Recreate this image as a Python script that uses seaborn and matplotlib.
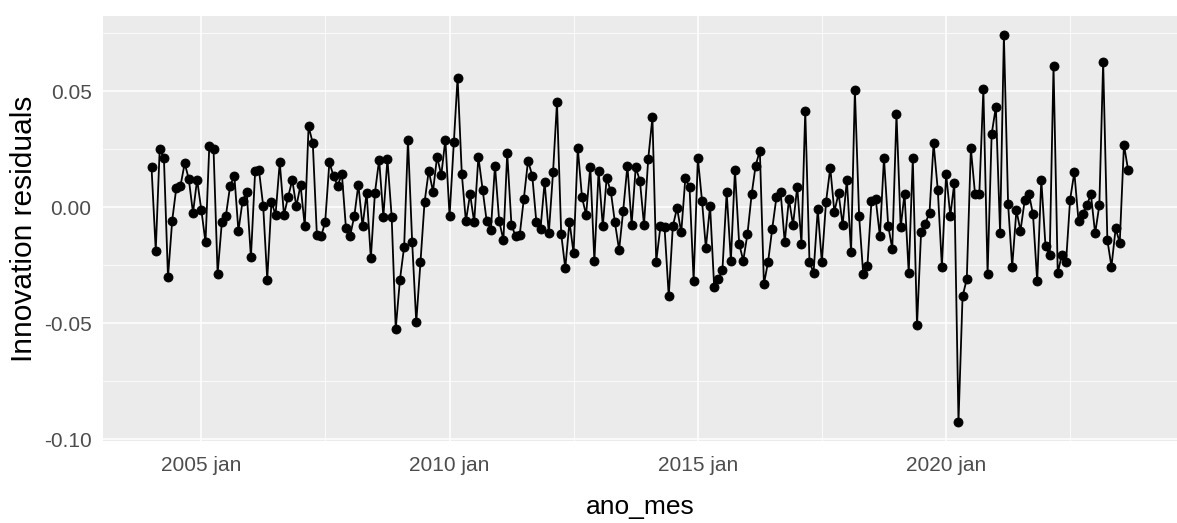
import numpy as np
import pandas as pd
import matplotlib
matplotlib.use("Agg")
import matplotlib.pyplot as plt
import matplotlib.dates as mdates
from matplotlib import font_manager
from matplotlib.ticker import FixedLocator
import seaborn as sns

# Monthly innovation residuals, one list per calendar year
res_2004 = [0.0172, -0.0187, 0.0251, 0.0213, -0.0302, -0.0057, 0.0083, 0.0093, 0.0190, 0.0122, -0.0024, 0.0119]
res_2005 = [-0.0010, -0.0151, 0.0266, 0.0251, -0.0287, -0.0065, -0.0036, 0.0092, 0.0137, -0.0102, 0.0029, 0.0065]
res_2006 = [-0.0216, 0.0155, 0.0161, 0.0007, -0.0312, 0.0024, -0.0033, 0.0194, -0.0033, 0.0043, 0.0118, 0.0004]
res_2007 = [0.0096, -0.0082, 0.0349, 0.0277, -0.0119, -0.0125, -0.0065, 0.0194, 0.0134, 0.0093, 0.0144, -0.0091]
res_2008 = [-0.0122, -0.0036, 0.0098, -0.0082, 0.0062, -0.0220, 0.0062, 0.0205, -0.0040, 0.0208, -0.0040, -0.0525]
res_2009 = [-0.0312, -0.0170, 0.0292, -0.0151, -0.0496, -0.0237, 0.0022, 0.0158, 0.0068, 0.0218, 0.0139, 0.0292]
res_2010 = [-0.0039, 0.0280, 0.0560, 0.0144, -0.0060, 0.0057, -0.0065, 0.0218, 0.0075, -0.0060, -0.0096, 0.0180]
res_2011 = [-0.0060, -0.0141, 0.0234, -0.0075, -0.0125, -0.0119, 0.0036, 0.0201, 0.0137, -0.0062, -0.0093, 0.0108]
res_2012 = [-0.0112, 0.0151, 0.0453, -0.0115, -0.0263, -0.0062, -0.0198, 0.0256, 0.0043, -0.0032, 0.0175, -0.0233]
res_2013 = [0.0158, -0.0082, 0.0126, 0.0069, -0.0065, -0.0184, -0.0014, 0.0180, -0.0075, 0.0172, 0.0115, -0.0076]
res_2014 = [0.0208, 0.0388, -0.0234, -0.0082, -0.0086, -0.0384, -0.0082, -0.0003, -0.0108, 0.0125, 0.0086, -0.0316]
res_2015 = [0.0213, 0.0026, -0.0175, 0.0006, -0.0342, -0.0309, -0.0269, 0.0065, -0.0230, 0.0161, -0.0158, -0.0230]
res_2016 = [-0.0115, 0.0057, 0.0180, 0.0244, -0.0331, -0.0234, -0.0093, 0.0043, 0.0065, -0.0151, 0.0036, -0.0076]
res_2017 = [0.0089, -0.0158, 0.0417, -0.0234, -0.0283, -0.0009, -0.0237, 0.0024, 0.0170, -0.0019, 0.0060, -0.0076]
res_2018 = [0.0118, -0.0194, 0.0506, -0.0036, -0.0287, -0.0254, 0.0026, 0.0036, -0.0125, 0.0213, -0.0079, -0.0180]
res_2019 = [0.0402, -0.0087, 0.0059, -0.0284, 0.0211, -0.0510, -0.0106, -0.0070, -0.0023, 0.0277, 0.0073, -0.0256]
res_2020 = [0.0144, -0.0037, 0.0104, -0.0925, -0.0384, -0.0310, 0.0254, 0.0056, 0.0056, 0.0509, -0.0289, 0.0316]
res_2021 = [0.0433, -0.0110, 0.0742, 0.0013, -0.0256, -0.0013, -0.0101, 0.0030, 0.0059, -0.0031, -0.0320, 0.0119]
res_2022 = [-0.0167, -0.0206, 0.0609, -0.0284, -0.0206, -0.0237, 0.0033, 0.0151, -0.0060, -0.0027, 0.0009, 0.0056]
res_2023 = [-0.0113, 0.0009, 0.0627, -0.0141, -0.0256, -0.0091, -0.0153, 0.0270, 0.0159]

year_lists = [res_2004, res_2005, res_2006, res_2007, res_2008, res_2009, res_2010,
              res_2011, res_2012, res_2013, res_2014, res_2015, res_2016, res_2017,
              res_2018, res_2019, res_2020, res_2021, res_2022, res_2023]
residuals = [v for yr in year_lists for v in yr]
months = pd.date_range("2004-01-01", periods=len(residuals), freq="MS")

x_tick_dates = ["2005-01-01", "2010-01-01", "2015-01-01", "2020-01-01"]
x_tick_labels = ["2005 jan", "2010 jan", "2015 jan", "2020 jan"]
y_ticks = [-0.10, -0.05, 0.00, 0.05]
y_tick_labels = ["-0.10", "-0.05", "0.00", "0.05"]

df = pd.DataFrame({"ano_mes": months, "resid": residuals})

sns.set_theme(style="darkgrid")
names = {f.name for f in font_manager.fontManager.ttflist}
family = "Liberation Sans Narrow" if "Liberation Sans Narrow" in names else "Liberation Sans"
narrow = family == "Liberation Sans Narrow"
plt.rcParams["font.family"] = [family, "DejaVu Sans"]

W, H = 1177, 523
fig = plt.figure(figsize=(W / 100, H / 100), dpi=100)
fig.patch.set_facecolor("white")
left, right, top, bottom = 102.7, 1177, 16, 441
ax = fig.add_axes([left / W, 1 - bottom / H, (right - left) / W, (bottom - top) / H])
ax.set_facecolor("#EBEBEB")

sns.lineplot(data=df, x="ano_mes", y="resid", ax=ax, color="black", linewidth=1.3,
             marker="o", markersize=6.5, markeredgecolor="black", markeredgewidth=0.6)

# ggplot-style 5% expansion on both axes
xnum = mdates.date2num(df["ano_mes"])
xpad = 0.05 * (xnum.max() - xnum.min())
ax.set_xlim(xnum.min() - xpad, xnum.max() + xpad)
ypad = 0.05 * (max(residuals) - min(residuals))
ax.set_ylim(min(residuals) - ypad, max(residuals) + ypad)

major_x = mdates.date2num(pd.to_datetime(x_tick_dates))
ax.xaxis.set_major_locator(FixedLocator(major_x))
ax.set_xticklabels(x_tick_labels)
step = major_x[1] - major_x[0]
minor_x = [m + step / 2 for m in np.concatenate([[major_x[0] - step], major_x])]
ax.xaxis.set_minor_locator(FixedLocator(minor_x))

ax.set_yticks(y_ticks)
ax.set_yticklabels(y_tick_labels)
ax.yaxis.set_minor_locator(FixedLocator([-0.075, -0.025, 0.025, 0.075]))

ax.grid(which="major", color="white", linewidth=1.1)
ax.grid(which="minor", color="white", linewidth=0.55)
ax.set_axisbelow(True)
for s in ax.spines.values():
    s.set_visible(False)

tick_size = 17.5 if narrow else 15
ax.tick_params(axis="both", which="major", colors="#333333", labelcolor="#4D4D4D",
               labelsize=tick_size, width=1.1)
ax.tick_params(axis="x", which="major", length=6, pad=5)
ax.tick_params(axis="y", which="major", length=5, pad=3)
ax.tick_params(which="minor", length=0)

ax.set_xlabel("ano_mes", fontsize=22 if narrow else 19, color="black", va="center")
ax.set_ylabel("Innovation residuals", fontsize=21.5, color="black", va="center")
ax.xaxis.set_label_coords(0.5, (bottom - 507) / (bottom - top))
ax.yaxis.set_label_coords((24 - left) / (right - left), 0.5)

fig.savefig("out.png", dpi=100, facecolor="white")
